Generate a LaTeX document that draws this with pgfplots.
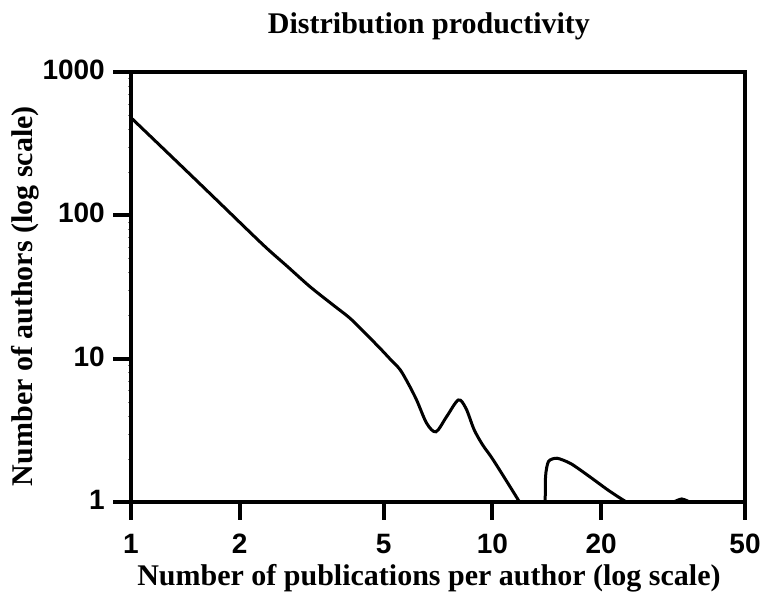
\documentclass[border=0pt]{standalone}
\usepackage{fontspec}
\setmainfont{Liberation Serif}
\newfontfamily\tickfont{Liberation Sans}
\usepackage{pgfplots}
\pgfplotsset{compat=1.18}
\begin{document}
\begin{tikzpicture}
\begin{axis}[
  xmode=log, ymode=log,
  scale only axis, width=614pt, height=430pt,
  xmin=1, xmax=50, ymin=1, ymax=1000,
  xtick={1,2,5,10,20,50}, xticklabels={1,2,5,10,20,50},
  ytick={1,10,100,1000}, yticklabels={1,10,100,1000},
  minor tick num=0,
  xtick align=outside, ytick align=outside,
  major tick length=18pt,
  xtick pos=left, ytick pos=left,
  major tick style={line width=4pt, black},
  axis line style={line width=4pt, black},
  xticklabel style={font=\tickfont\fontsize{28}{32}\selectfont\bfseries, anchor=base, inner sep=0pt, yshift=-34pt},
  yticklabel style={font=\tickfont\fontsize{28}{32}\selectfont\bfseries, anchor=east, inner sep=0pt, xshift=-8pt, yshift=2pt},
  title={Distribution productivity},
  title style={font=\fontsize{30}{36}\selectfont\bfseries, at={(axis description cs:0.4853,1.093)}, anchor=base, yshift=-7pt},
  xlabel={Number of publications per author (log scale)},
  xlabel style={font=\fontsize{30}{36}\selectfont\bfseries, at={(axis description cs:0.4853,-0.1953)}, anchor=base},
  ylabel={Number of authors (log scale)},
  ylabel style={font=\fontsize{30}{36}\selectfont\bfseries, at={(axis description cs:-0.1596,0.479)}, anchor=base, rotate=0},
]
\coordinate (ll) at (rel axis cs:0,0);
\coordinate (tx1) at (rel axis cs:0,0);
\coordinate (tx2) at (rel axis cs:0.17718,0);
\coordinate (tx3) at (rel axis cs:0.41141,0);
\coordinate (tx4) at (rel axis cs:0.58859,0);
\coordinate (tx5) at (rel axis cs:0.76577,0);
\coordinate (tx6) at (rel axis cs:1,0);
\coordinate (ty1) at (rel axis cs:0,0);
\coordinate (ty2) at (rel axis cs:0,0.33333);
\coordinate (ty3) at (rel axis cs:0,0.66667);
\coordinate (ty4) at (rel axis cs:0,1);
\addplot[black, line width=3pt, smooth, tension=0.5] coordinates {
(1,480) (1.25,280) (1.5,180) (1.763,121.5) (2.323,62.1) (2.7,44.3) (3.128,31.8) (3.6,24.0) (4.04,19.1) (4.5,14.6) (4.89,11.8) (5.2,10.0) (5.55,8.4) (5.85,6.7) (6.17,5.15) (6.58,3.54) (6.98,3.09) (7.47,3.94) (8.05,5.15) (8.45,4.5) (8.9,3.2) (9.4,2.5) (10.06,1.96) (11.8,1.03) (12.3,0.85)
};
\addplot[black, line width=3pt, smooth, tension=0.4] coordinates {
(14.0,0.8) (14.03,1.5) (14.3,1.92) (15.1,2.02) (16.5,1.85) (18.6,1.5) (21,1.2) (23.5,1.0) (25,0.95)
};
\addplot[black, line width=3pt, smooth, tension=0.4] coordinates {
(31,0.97) (33.4,1.05) (36,0.97)
};
\end{axis}
\foreach \t in {tx1,tx2,tx3,tx4,tx5,tx6} {\draw[line width=4pt, black] (\t) -- ++(0,-18pt);}
\foreach \t in {ty1,ty2,ty3,ty4} {\draw[line width=4pt, black] (\t) -- ++(-18pt,0);}
\pgfresetboundingbox
\path ([shift={(-131pt,-94pt)}]ll) rectangle ([shift={(634pt,502pt)}]ll);
\end{tikzpicture}
\end{document}
